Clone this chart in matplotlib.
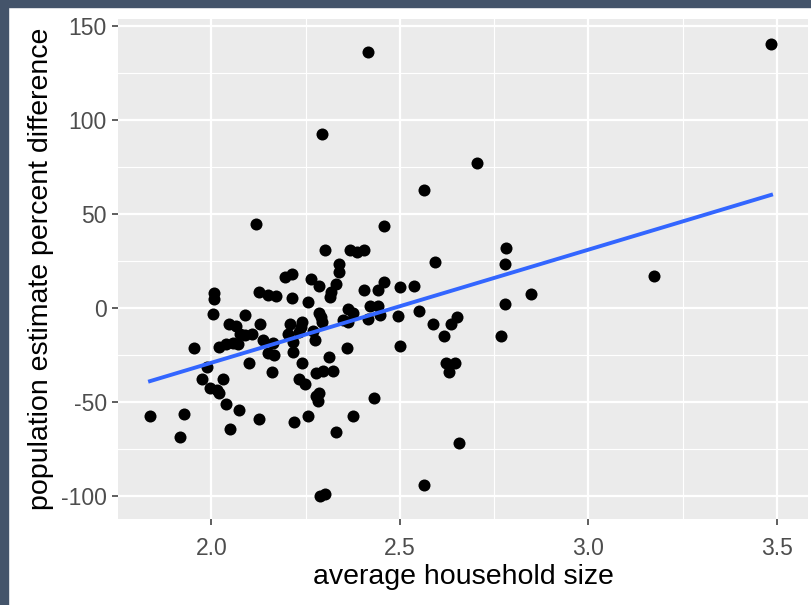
import matplotlib
matplotlib.use("Agg")
import matplotlib.pyplot as plt
from matplotlib.patches import Rectangle

# average household size
household_size = [
    2.416, 3.485, 2.294, 2.704, 2.565, 2.118, 2.459, 2.300, 2.368, 2.386,
    2.406, 2.782, 2.778, 2.592, 2.338, 2.338, 2.331, 2.317, 2.314, 2.406,
    2.194, 2.214, 2.264, 2.285, 2.008, 2.008, 2.127, 2.149, 2.172, 2.214,
    2.257, 2.443, 2.459, 2.501, 2.538, 2.848, 2.778, 2.422, 2.443, 2.004,
    2.090, 2.362, 2.375, 2.415, 2.348, 2.446, 2.362, 2.286, 2.291, 2.294,
    2.550, 2.496, 2.587, 2.651, 2.636, 2.618, 2.768, 2.501, 3.175, 2.046,
    2.065, 2.076, 2.090, 2.108, 2.130, 2.136, 2.021, 2.039, 2.057, 2.070,
    1.955, 2.209, 2.240, 2.238, 2.203, 2.233, 2.269, 2.276, 2.216, 2.216,
    2.163, 2.149, 2.167, 2.359, 2.311, 2.240, 2.099, 1.988, 2.161, 2.278,
    2.295, 2.322, 1.975, 2.030, 1.997, 2.014, 2.019, 2.232, 2.247, 2.278,
    2.286, 2.284, 2.039, 2.072, 1.837, 1.928, 2.126, 2.220, 2.257, 2.375,
    2.331, 2.050, 1.917, 2.289, 2.301, 2.432, 2.622, 2.645, 2.630, 2.656,
    2.565,
]

# population estimate percent difference
pct_diff = [
    136.2, 140.4, 92.6, 77.3, 62.8, 44.7, 43.6, 30.9, 30.9, 30.0,
    30.9, 31.7, 23.4, 24.3, 23.4, 19.3, 12.8, 8.7, 6.0, 9.6,
    16.3, 18.1, 15.3, 11.7, 8.0, 5.0, 8.7, 6.9, 6.4, 5.5,
    3.0, 9.6, 14.0, 11.0, 11.7, 7.4, 2.1, 1.2, 1.2, -3.2,
    -3.7, -0.7, -2.8, -6.0, -6.4, -3.7, -7.3, -2.8, -4.6, -7.6,
    -1.4, -4.3, -8.5, -5.0, -8.5, -14.9, -14.9, -20.2, 17.0, -8.5,
    -9.4, -13.5, -14.4, -13.8, -8.7, -17.0, -20.6, -19.3, -18.4, -19.3,
    -21.4, -8.5, -7.4, -9.9, -13.5, -12.9, -12.0, -17.0, -17.9, -23.2,
    -18.8, -24.1, -25.0, -21.4, -26.2, -29.0, -29.0, -31.2, -34.2, -34.4,
    -33.3, -33.3, -37.4, -37.4, -42.7, -43.6, -45.0, -37.4, -40.4, -46.8,
    -45.0, -49.3, -51.0, -54.3, -57.4, -56.4, -58.7, -60.6, -57.4, -57.4,
    -66.0, -64.0, -68.4, -100.0, -98.9, -48.0, -28.9, -28.9, -34.2, -71.4,
    -93.8,
]

# linear trend line (ends of the blue line)
trend_x = [min(household_size), max(household_size)]
trend_y = [-38.8, 60.1]

x_ticks = [2.0, 2.5, 3.0, 3.5]
x_labels = ["2.0", "2.5", "3.0", "3.5"]
y_ticks = [-100, -50, 0, 50, 100, 150]

plt.rcParams["font.family"] = ["Liberation Sans", "DejaVu Sans"]
plt.rcParams["axes.unicode_minus"] = False

fig = plt.figure(figsize=(8.12, 6.05), dpi=100)
fig.patch.set_facecolor("white")
# dark frame on the left and top edges
fig.patches.append(Rectangle((0, 0), 8 / 812, 1, transform=fig.transFigure,
                             color="#44546a", zorder=0))
fig.patches.append(Rectangle((0, 1 - 7 / 605), 1, 7 / 605, transform=fig.transFigure,
                             color="#44546a", zorder=0))

ax = fig.add_axes([118 / 812, 1 - 519 / 605, 690 / 812, 500 / 605])
ax.set_facecolor("#ebebeb")
for s in ax.spines.values():
    s.set_visible(False)

ax.set_xlim(1.752, 3.583)
ax.set_ylim(-112, 153.5)

ax.set_xticks(x_ticks)
ax.set_xticklabels(x_labels)
ax.set_yticks(y_ticks)
ax.set_xticks([2.25, 2.75, 3.25], minor=True)
ax.set_yticks([-75, -25, 25, 75, 125], minor=True)
ax.grid(which="major", color="white", linewidth=1.6)
ax.grid(which="minor", color="white", linewidth=0.8)
ax.set_axisbelow(True)
ax.tick_params(which="major", length=4, width=1.1, color="#333333",
               labelcolor="#4d4d4d", labelsize=16.5, pad=4)
ax.tick_params(axis="x", which="major", pad=9)
ax.tick_params(which="minor", length=0)

ax.scatter(household_size, pct_diff, s=75, color="black", zorder=3, linewidths=0)
ax.plot(trend_x, trend_y, color="#3366ff", linewidth=2.8, zorder=4)

ax.set_xlabel("average household size", fontsize=20.5, color="black", labelpad=3)
ax.set_ylabel("population estimate percent difference", fontsize=20.5,
              color="black", labelpad=5)

fig.savefig("out.png", dpi=100)
